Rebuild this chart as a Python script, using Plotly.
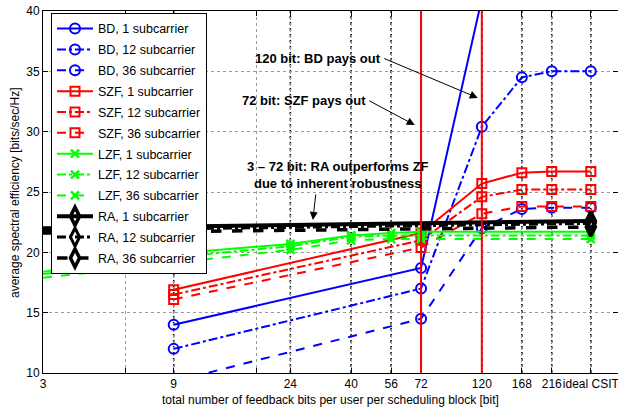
import math
import plotly.graph_objects as go

# ---------------- data ----------------
x_tick_bits = [3, 9, 24, 40, 56, 72, 120, 168, 216, 300]
x_tick_labels = ["3", "9", "24", "40", "56", "72", "120", "168", "216", "ideal CSIT"]
x_minor_grid = [6, 18]

bd_x = [9, 72, 120, 168, 216, 300]
bd_1 = [14.0, 18.7, 41.0, None, None, None]
bd_12 = [12.0, 17.0, 30.4, 34.5, 35.0, 35.0]
bd_36 = [9.3, 14.5, 22.0, 23.6, 23.7, 23.7]

szf_x = [9, 72, 120, 168, 216, 300]
szf_1 = [16.9, 21.6, 25.7, 26.6, 26.7, 26.7]
szf_12 = [16.5, 21.0, 24.6, 25.2, 25.2, 25.2]
szf_36 = [16.1, 20.4, 23.2, 23.8, 23.8, 23.8]

lzf_x = [3, 9, 24, 40, 56, 72, 300]
lzf_1 = [18.4, 19.9, 20.7, 21.4, 21.6, 21.7, 21.7]
lzf_12 = [18.2, 19.6, 20.5, 21.3, 21.4, 21.4, 21.4]
lzf_36 = [17.9, 19.1, 20.2, 21.0, 21.1, 21.1, 21.1]

ra_x = [3, 300]
ra_1 = [22.0, 22.6]
ra_12 = [21.8, 22.4]
ra_36 = [21.6, 22.1]

threshold_bits = [72, 120]

x_title = "total number of feedback bits per user per scheduling block [bit]"
y_title = "average spectral efficiency [bits/sec/Hz]"

BLUE, RED, GREEN, BLACK = "#0000ff", "#ff0000", "#00ff00", "#000000"

fig = go.Figure()

def add(name, x, y, color, dash, symbol, msize, lw, mlw, clip=True):
    fig.add_trace(go.Scatter(
        x=x, y=y, name=name, mode="lines+markers", legendgroup=name,
        line=dict(color=color, width=lw, dash=dash),
        marker=dict(symbol=symbol, size=msize, color=color,
                    line=dict(color=color, width=mlw)),
        cliponaxis=clip,
    ))

add("BD, 1 subcarrier", bd_x, bd_1, BLUE, "solid", "circle-open", 10, 2, 2)
add("BD, 12 subcarrier", bd_x, bd_12, BLUE, "dashdot", "circle-open", 10, 2, 2)
add("BD, 36 subcarrier", bd_x, bd_36, BLUE, "dash", "circle-open", 10, 2, 2)
add("SZF, 1 subcarrier", szf_x, szf_1, RED, "solid", "square-open", 9, 2, 2)
add("SZF, 12 subcarrier", szf_x, szf_12, RED, "dashdot", "square-open", 9, 2, 2)
add("SZF, 36 subcarrier", szf_x, szf_36, RED, "dash", "square-open", 9, 2, 2)
add("LZF, 1 subcarrier", lzf_x, lzf_1, GREEN, "solid", "x-thin-open", 8, 2, 2.5)
add("LZF, 12 subcarrier", lzf_x, lzf_12, GREEN, "dashdot", "x-thin-open", 8, 2, 2.5)
add("LZF, 36 subcarrier", lzf_x, lzf_36, GREEN, "dash", "x-thin-open", 8, 2, 2.5)
add("RA, 1 subcarrier", ra_x, ra_1, BLACK, "solid", "diamond-tall-open", 13, 4, 3.5, False)
add("RA, 12 subcarrier", ra_x, ra_12, BLACK, "dashdot", "diamond-tall-open", 13, 3, 3, False)
add("RA, 36 subcarrier", ra_x, ra_36, BLACK, "dash", "diamond-tall-open", 13, 3.5, 3.5, False)

# black dotted guide lines at labelled ticks
for xb in x_tick_bits[1:]:
    fig.add_shape(type="line", x0=xb, x1=xb, y0=0, y1=1, xref="x", yref="paper",
                  line=dict(color="black", width=1.5, dash="dot"), layer="below")
# red threshold lines
for xb in threshold_bits:
    fig.add_shape(type="line", x0=xb, x1=xb, y0=0, y1=1, xref="x", yref="paper",
                  line=dict(color=RED, width=2), layer="above")

# annotations
L = math.log10
texts = [
    ("<b>120 bit: BD pays out</b>", 30.3, 36.1),
    ("<b>72 bit: SZF pays out</b>", 26.9, 32.6),
    ("<b>3 – 72 bit: RA outperforms ZF<br>due to inherent robustness</b>", 35.8, 26.4),
]
for t, xv, yv in texts:
    fig.add_annotation(text=t, x=L(xv), y=yv, xref="x", yref="y", showarrow=False,
                       font=dict(size=13, color="black"), align="center")
arrows = [(116, 32.8, -95, -40), (68.3, 30.55, -47, -25), (29, 22.68, 3, -27)]
for xv, yv, ax, ay in arrows:
    fig.add_annotation(text="", x=L(xv), y=yv, xref="x", yref="y", showarrow=True,
                       ax=ax, ay=ay, arrowhead=2, arrowsize=1.6, arrowwidth=1,
                       arrowcolor="black", standoff=0, startstandoff=0)

# axis titles
fig.add_annotation(text=x_title, xref="paper", yref="paper", x=0.5, y=-0.0746,
                   xanchor="center", yanchor="middle", showarrow=False,
                   font=dict(size=12, color="black"))
fig.add_annotation(text=y_title, xref="paper", yref="paper", x=-0.0487, y=0.5,
                   xanchor="center", yanchor="middle", showarrow=False, textangle=-90,
                   font=dict(size=12, color="black"))

fig.update_layout(
    width=618, height=409,
    margin=dict(l=43, r=0, t=11, b=36, autoexpand=False),
    plot_bgcolor="white", paper_bgcolor="white",
    font=dict(family="Liberation Sans, Arial, sans-serif", size=12, color="black"),
    legend=dict(x=0.0139, y=0.9945, xanchor="left", yanchor="top",
                bgcolor="white", bordercolor="black", borderwidth=1,
                font=dict(size=12.5), tracegroupgap=1.6, itemwidth=36),
    showlegend=True,
)
fig.update_xaxes(
    type="log", range=[L(3), L(377)], automargin=False,
    tickvals=x_tick_bits + x_minor_grid,
    ticktext=x_tick_labels + ["", ""],
    ticklabeloverflow="allow", tickangle=0,
    ticks="inside", ticklen=5, tickcolor="black",
    showline=True, linecolor="black", linewidth=1, mirror="allticks",
    showgrid=True, gridcolor="#9a9a9a", griddash="dot", gridwidth=1,
    zeroline=False,
    tickfont=dict(size=12),
)
fig.update_yaxes(
    range=[10, 40], tickvals=[10, 15, 20, 25, 30, 35, 40], automargin=False,
    ticks="inside", ticklen=5, tickcolor="black",
    showline=True, linecolor="black", linewidth=1, mirror="allticks",
    showgrid=True, gridcolor="#9a9a9a", griddash="dot", gridwidth=1,
    zeroline=False,
    tickfont=dict(size=12),
)

fig.write_html("out.html", config={"displayModeBar": False},
               post_script="document.body.style.margin='0';document.body.style.padding='0';")
